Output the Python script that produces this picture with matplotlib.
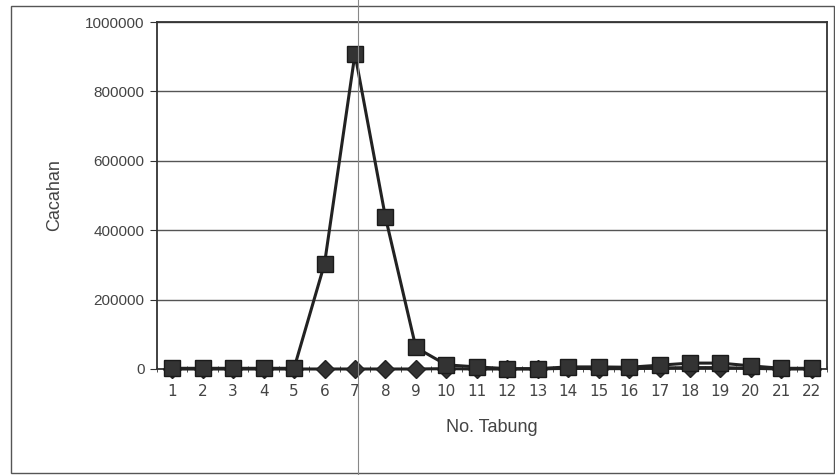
import matplotlib
matplotlib.use("Agg")
import matplotlib.pyplot as plt
from matplotlib.patches import Rectangle
from matplotlib.lines import Line2D

tabung = list(range(1, 23))
series_square = [2000, 2000, 2000, 2000, 2000, 303000, 908000, 438000, 62000, 12000, 6000, 1000,
                 1000, 6000, 6000, 5000, 11000, 17000, 17000, 9000, 2000, 2000]
series_diamond = [0, 0, 0, 0, 0, 0, 0, 0, 0, 1000, 0, 0,
                  0, 2000, 1000, 1000, 3000, 4000, 4000, 2000, 0, 0]
yticks = [0, 200000, 400000, 600000, 800000, 1000000]

fig = plt.figure(figsize=(8.35, 4.75), dpi=100)
fig.patch.set_facecolor("white")
ax = fig.add_axes([157/835, 1-369/475, (827-157)/835, (369-22)/475])

xs = list(range(len(tabung)))
ax.plot(xs, series_diamond, color="#222222", lw=2.2, marker="D", ms=9, mfc="#333333", mec="#222222",
        zorder=3, clip_on=False)
ax.plot(xs, series_square, color="#222222", lw=2.2, marker="s", ms=11, mfc="#333333", mec="#1a1a1a",
        zorder=4, clip_on=False)

ax.set_xlim(-0.5, len(tabung)-0.5)
ax.set_ylim(0, 1000000)
ax.set_yticks(yticks)
ax.set_yticklabels([str(v) for v in yticks], fontfamily="Liberation Sans", fontsize=11, color="#444444")
ax.set_xticks(xs)
ax.set_xticklabels([str(t) for t in tabung], fontfamily="DejaVu Sans", fontsize=11, color="#444444")
ax.set_xticks([i-0.5 for i in range(len(tabung)+1)], minor=True)
ax.tick_params(axis="x", which="major", length=0, pad=11)
ax.tick_params(axis="x", which="minor", length=4, direction="inout", color="#333333")
ax.tick_params(axis="y", length=5, direction="out", color="#333333", pad=4)
ax.grid(axis="y", color="#555555", lw=1)
ax.set_axisbelow(True)
for s in ax.spines.values():
    s.set_color("#333333")
    s.set_linewidth(1.3)

ax.set_ylabel("Cacahan", fontfamily="Liberation Sans", fontsize=13, color="#444444", labelpad=16)
ax.set_xlabel("No. Tabung", fontfamily="Liberation Sans", fontsize=13, color="#444444", labelpad=14)

fig.patches.append(Rectangle((11/835, 1-473/475), (834-11)/835, (473-6)/475, transform=fig.transFigure,
                             fill=False, edgecolor="#555555", lw=1))
fig.lines.append(Line2D([358/835, 358/835], [0, 1], transform=fig.transFigure, color="#888888", lw=0.8))

fig.savefig("out.png", dpi=100)
